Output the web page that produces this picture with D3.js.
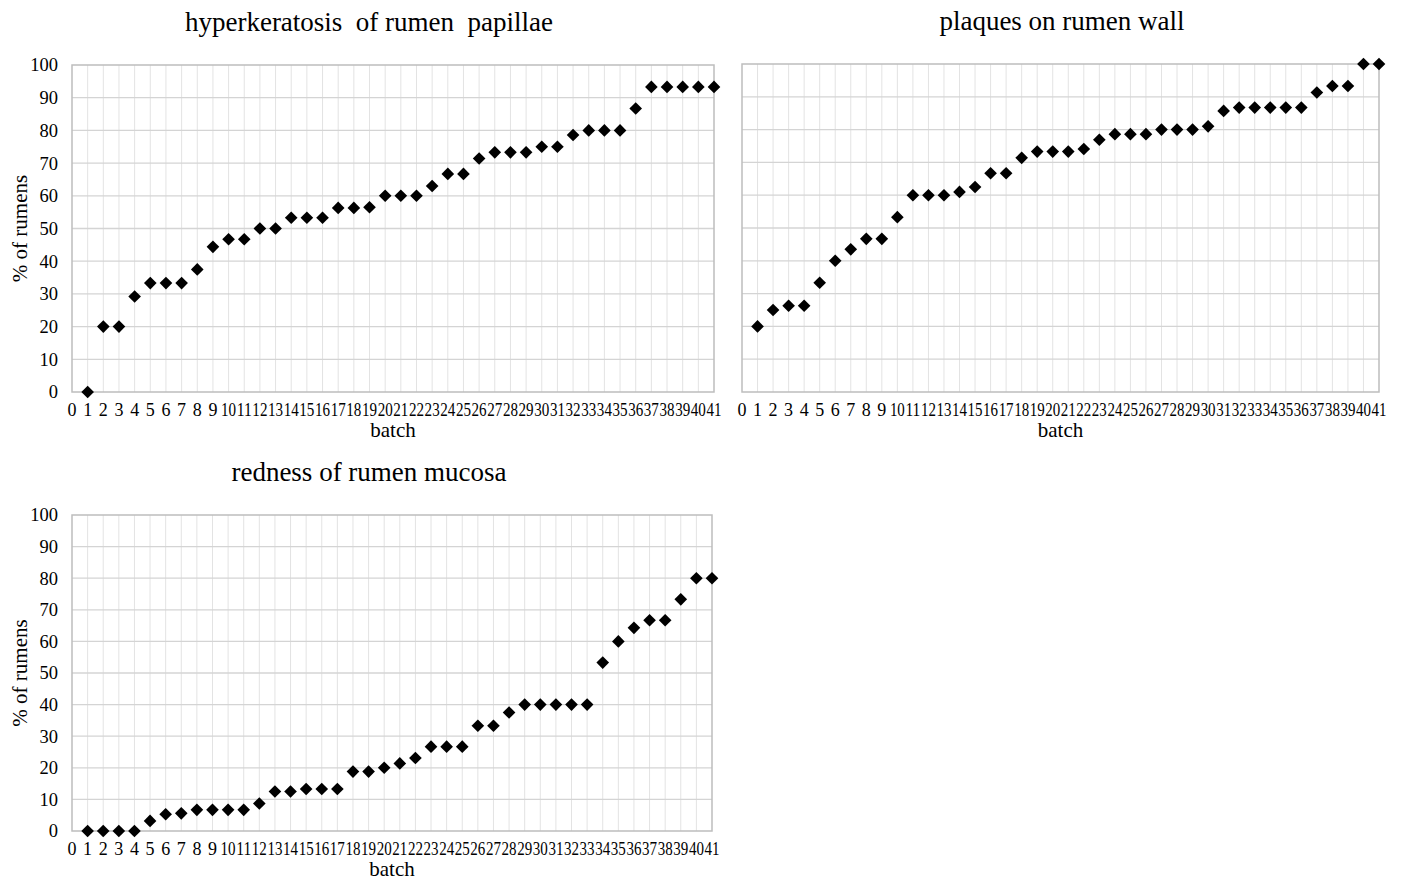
<!DOCTYPE html>
<html>
<head>
<meta charset="utf-8">
<script src="https://cdn.jsdelivr.net/npm/d3@7"></script>
<style>
  body { margin: 0; background: #fff; }
  text { font-family: "Liberation Serif", "Times New Roman", serif; fill: #000; }
</style>
</head>
<body>
<div id="vis"></div>
<script>
// batches 1..41 on every panel
const batches = d3.range(1, 42);
const xTicks = d3.range(0, 42);
const yTicks = d3.range(0, 101, 10);

const hyperkeratosis = [0, 20, 20, 29.2, 33.3, 33.3, 33.3, 37.5, 44.4, 46.7,
  46.7, 50, 50, 53.3, 53.3, 53.3, 56.3, 56.3, 56.5, 60,
  60, 60, 63, 66.7, 66.7, 71.4, 73.3, 73.3, 73.3, 75,
  75, 78.6, 80, 80, 80, 86.7, 93.3, 93.3, 93.3, 93.3, 93.3];

const plaques = [20, 25, 26.3, 26.3, 33.3, 40, 43.5, 46.7, 46.7, 53.3,
  60, 60, 60, 61, 62.5, 66.7, 66.7, 71.4, 73.3, 73.3,
  73.3, 74.1, 76.9, 78.6, 78.6, 78.6, 80, 80, 80, 81,
  85.7, 86.7, 86.7, 86.7, 86.7, 86.7, 91.3, 93.3, 93.3, 100, 100];

const redness = [0, 0, 0, 0, 3.2, 5.3, 5.6, 6.7, 6.7, 6.7,
  6.7, 8.7, 12.5, 12.5, 13.3, 13.3, 13.3, 18.8, 18.8, 20,
  21.4, 23.1, 26.7, 26.7, 26.7, 33.3, 33.3, 37.5, 40, 40,
  40, 40, 40, 53.3, 60, 64.3, 66.7, 66.7, 73.3, 80, 80];

const W = 1404, H = 886;

const svg = d3.select("#vis").append("svg")
  .attr("width", W)
  .attr("height", H);

function drawPanel(p) {
  const x = d3.scaleLinear().domain([0, 41]).range([p.left, p.right]);
  const y = d3.scaleLinear().domain([0, 100]).range([p.bottom, p.top]);
  const g = svg.append("g");
  const step = x(1) - x(0);

  // vertical grid (one per batch)
  g.append("g").selectAll("line")
    .data(xTicks.slice(1, -1))
    .join("line")
    .attr("x1", d => x(d)).attr("x2", d => x(d))
    .attr("y1", p.top).attr("y2", p.bottom)
    .attr("stroke", "#e3e3e3").attr("stroke-width", 1);

  // horizontal grid
  g.append("g").selectAll("line")
    .data(yTicks.slice(1, -1))
    .join("line")
    .attr("x1", p.left).attr("x2", p.right)
    .attr("y1", d => y(d)).attr("y2", d => y(d))
    .attr("stroke", "#d4d4d4").attr("stroke-width", 1.3);

  // plot frame
  g.append("rect")
    .attr("x", p.left).attr("y", p.top)
    .attr("width", p.right - p.left).attr("height", p.bottom - p.top)
    .attr("fill", "none").attr("stroke", "#bdbdbd").attr("stroke-width", 1.5);

  // x tick labels - two-digit ones squeezed to the batch step, like the original
  const xl = g.append("g").selectAll("text")
    .data(xTicks)
    .join("text")
    .attr("x", d => x(d))
    .attr("y", p.bottom + 24)
    .attr("text-anchor", "middle")
    .style("font-size", "18px")
    .text(d => d);
  xl.filter(d => d >= 10)
    .attr("textLength", step - 0.6)
    .attr("lengthAdjust", "spacingAndGlyphs");

  // y tick labels
  if (p.yLabels) {
    g.append("g").selectAll("text")
      .data(yTicks)
      .join("text")
      .attr("x", p.left - 14)
      .attr("y", d => y(d))
      .attr("dy", "0.35em")
      .attr("text-anchor", "end")
      .style("font-size", "18.5px")
      .text(d => d);

    g.append("text")
      .attr("transform", `translate(27,${(p.top + p.bottom) / 2}) rotate(-90)`)
      .attr("text-anchor", "middle")
      .style("font-size", "21px")
      .text("% of rumens");
  }

  g.append("text")
    .attr("x", (p.left + p.right) / 2)
    .attr("y", p.bottom + 45)
    .attr("text-anchor", "middle")
    .style("font-size", "21px")
    .text("batch");

  g.append("text")
    .attr("x", p.titleX)
    .attr("y", p.top - 34)
    .attr("text-anchor", "middle")
    .style("font-size", "27px")
    .style("white-space", "pre")
    .text(p.title);

  const diamond = d3.symbol(d3.symbolSquare, 80);
  g.append("g").selectAll("path")
    .data(batches.map((b, i) => [b, p.values[i]]))
    .join("path")
    .attr("d", diamond)
    .attr("transform", d => `translate(${x(d[0])},${y(d[1])}) rotate(45)`)
    .attr("fill", "#000");
}

drawPanel({ title: "hyperkeratosis  of rumen  papillae", values: hyperkeratosis,
  left: 72, right: 714, top: 65, bottom: 392, titleX: 369, yLabels: true });
drawPanel({ title: "plaques on rumen wall", values: plaques,
  left: 742, right: 1379, top: 64, bottom: 392, titleX: 1062, yLabels: false });
drawPanel({ title: "redness of rumen mucosa", values: redness,
  left: 72, right: 712, top: 515, bottom: 831, titleX: 369, yLabels: true });
</script>
</body>
</html>
